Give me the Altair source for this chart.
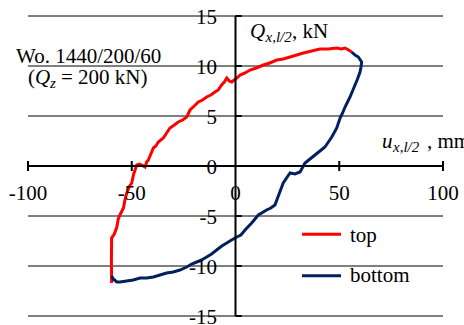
import altair as alt
import pandas as pd

# ---- data ----
top_x = [-59.7, -59.8, -59.7, -58.4, -57.2, -56.5, -55.7, -54.0, -53.2, -52.4, -51.0, -50.0,
         -49.2, -48.4, -47.6, -46.3, -45.2, -43.6, -42.8, -42.0, -40.4, -39.6, -38.4, -37.2,
         -34.8, -33.2, -31.6, -29.5, -27.6, -25.5, -23.5, -21.9, -19.9, -17.9, -15.9, -13.9,
         -11.9, -9.9, -8.3, -6.7, -5.4, -4.2, -3.0, -1.8, 0.0, 1.3, 2.2, 4.6, 7.0, 10.0,
         13.4, 16.5, 19.9, 23.0, 26.3, 29.5, 32.7, 36.7, 40.7, 44.7, 48.8, 51.0, 52.8, 54.5, 56.0]
top_y = [-11.7, -9.5, -7.2, -6.8, -6.1, -5.3, -4.9, -4.2, -3.3, -2.7, -2.0, -1.7,
         -0.9, -0.4, 0.1, 0.2, 0.1, -0.1, 0.4, 0.6, 1.4, 1.8, 2.0, 2.4,
         2.8, 3.3, 3.8, 4.1, 4.4, 4.6, 4.9, 5.6, 6.0, 6.4, 6.6, 6.9,
         7.1, 7.4, 7.6, 8.1, 8.4, 8.8, 8.5, 8.4, 8.7, 8.9, 9.1, 9.3, 9.6, 9.8,
         10.1, 10.3, 10.6, 10.7, 10.9, 11.1, 11.3, 11.5, 11.7, 11.7, 11.8, 11.7, 11.8, 11.6, 11.4]

bot_x = [56.0, 57.6, 59.2, 60.8, 60.4, 60.0, 58.8, 57.6, 56.4, 55.2, 52.8, 51.6, 50.4, 48.8,
         46.4, 43.1, 40.7, 38.3, 35.9, 33.5, 31.1, 28.7, 26.3, 24.6, 23.0, 21.0, 19.0, 17.0,
         15.0, 11.0, 9.4, 7.8, 4.6, 2.6, 0.6, -2.7, -4.2, -6.6, -9.1, -11.5, -13.9, -16.3,
         -18.7, -21.1, -23.5, -26.8, -30.0, -33.2, -36.4, -39.6, -42.8, -46.0, -49.3, -52.5,
         -55.7, -57.2, -58.9, -59.7]
bot_y = [11.4, 11.1, 10.9, 10.4, 9.8, 9.4, 8.7, 8.1, 7.5, 6.9, 5.9, 5.3, 4.8, 3.8,
         2.9, 1.9, 1.5, 1.1, 0.7, 0.3, -0.6, -0.8, -0.7, -1.2, -1.7, -2.8, -3.9, -4.2,
         -4.4, -4.9, -5.3, -5.7, -6.4, -6.9, -7.1, -7.5, -7.7, -8.0, -8.4, -8.8, -9.1, -9.4,
         -9.6, -9.8, -10.1, -10.4, -10.6, -10.7, -10.9, -11.1, -11.2, -11.2, -11.4, -11.5,
         -11.6, -11.6, -11.3, -11.0]

series_names = ["top", "bottom"]
series_colors = ["#ff0000", "#002060"]
x_ticks = [-100, -50, 0, 50, 100]
y_ticks = [-15, -10, -5, 0, 5, 10, 15]

FS = 21

xs = alt.Scale(domain=[-100, 100], nice=False, zero=False)
ys = alt.Scale(domain=[-15, 15], nice=False, zero=False)
cs = alt.Scale(domain=series_names, range=series_colors)

rows = []
for i, (x, y) in enumerate(zip(top_x, top_y)):
    rows.append({"x": x, "y": y, "s": series_names[0], "i": i})
for i, (x, y) in enumerate(zip(bot_x, bot_y)):
    rows.append({"x": x, "y": y, "s": series_names[1], "i": i})
curves = pd.DataFrame(rows)

def X(f):
    return alt.X(f, scale=xs, axis=None)

def Y(f):
    return alt.Y(f, scale=ys, axis=None)

grid_df = pd.DataFrame({"y": [v for v in y_ticks if v != 0]})
grid_df["x0"] = x_ticks[0]
grid_df["x1"] = x_ticks[-1]
grid = alt.Chart(grid_df).mark_rule(color="black", strokeWidth=1).encode(
    y=Y("y:Q"), x=X("x0:Q"), x2="x1:Q")

xaxis = alt.Chart(pd.DataFrame({"x0": [x_ticks[0]], "x1": [x_ticks[-1]], "y": [0]})).mark_rule(
    color="black", strokeWidth=2).encode(x=X("x0:Q"), x2="x1:Q", y=Y("y:Q"))
yaxis = alt.Chart(pd.DataFrame({"y0": [y_ticks[0]], "y1": [y_ticks[-1]], "x": [0]})).mark_rule(
    color="black", strokeWidth=2).encode(y=Y("y0:Q"), y2="y1:Q", x=X("x:Q"))

xt_df = pd.DataFrame({"x": [v for v in x_ticks if v != 0]})
xt_df["a"] = -0.5
xt_df["b"] = 0.5
xtick = alt.Chart(xt_df).mark_rule(color="black", strokeWidth=2).encode(
    x=X("x:Q"), y=Y("a:Q"), y2="b:Q")

yt_df = pd.DataFrame({"y": [v for v in y_ticks if v != 0]})
yt_df["a"] = 0
yt_df["b"] = 3
ytick = alt.Chart(yt_df).mark_rule(color="black", strokeWidth=2).encode(
    y=Y("y:Q"), x=X("a:Q"), x2="b:Q")

xl_df = pd.DataFrame({"x": x_ticks, "t": [str(v) for v in x_ticks]})
xlab = alt.Chart(xl_df).mark_text(font="Liberation Serif", fontSize=FS, align="center",
                                  baseline="alphabetic").encode(
    x=X("x:Q"), y=alt.value(184), text="t:N")

yl_df = pd.DataFrame({"y": y_ticks, "t": [str(v) for v in y_ticks]})
ylab = alt.Chart(yl_df).mark_text(font="Times New Roman", fontSize=FS, align="right",
                                  baseline="alphabetic", dy=7.5).encode(
    y=Y("y:Q"), x=alt.value(189), text="t:N")

lines = alt.Chart(curves).mark_line(strokeWidth=3).encode(
    x=X("x:Q"), y=Y("y:Q"),
    color=alt.Color("s:N", scale=cs, legend=None),
    order="i:Q")

def txt(s, x, y, size=FS, italic=False):
    kw = dict(font="serif", fontSize=size, align="left", baseline="alphabetic")
    if italic:
        kw["fontStyle"] = "italic"
    return alt.Chart(pd.DataFrame({"t": [s]})).mark_text(**kw).encode(
        x=alt.value(x), y=alt.value(y), text="t:N")

annots = [
    txt("Wo. 1440/200/60", -12, 47),
    txt("(", 0, 68),
    txt("Q", 7, 68, italic=True),
    txt("z", 22, 72, size=15, italic=True),
    txt("= 200 kN)", 33, 68),
    txt("Q", 222, 22, italic=True),
    txt("x,l/2", 237.5, 26, size=15, italic=True),
    txt(", kN", 264, 22),
    txt("u", 354, 132, italic=True),
    txt("x,l/2", 365, 136, size=15, italic=True),
    txt(", mm", 399, 132),
]

legend_layers = []
for name, ly, ty in zip(series_names, [218.3, 259.7], [225.7, 265.7]):
    d = pd.DataFrame({"s": [name]})
    legend_layers.append(alt.Chart(d).mark_rule(strokeWidth=3).encode(
        x=alt.value(274), x2=alt.value(313), y=alt.value(ly),
        color=alt.Color("s:N", scale=cs, legend=None)))
    legend_layers.append(alt.Chart(d).mark_text(font="Liberation Serif, serif", fontSize=FS,
                                                align="left", baseline="alphabetic").encode(
        x=alt.value(322), y=alt.value(ty), text="s:N"))

chart = alt.layer(grid, xtick, ytick, lines, xaxis, yaxis, xlab, ylab, *annots,
                  *legend_layers).properties(
    width=415, height=300, autosize="none",
    padding={"left": 28, "top": 16, "right": 21, "bottom": 9},
).configure_view(stroke=None)

chart.save("out.html", embed_options={"renderer": "svg", "actions": False})
